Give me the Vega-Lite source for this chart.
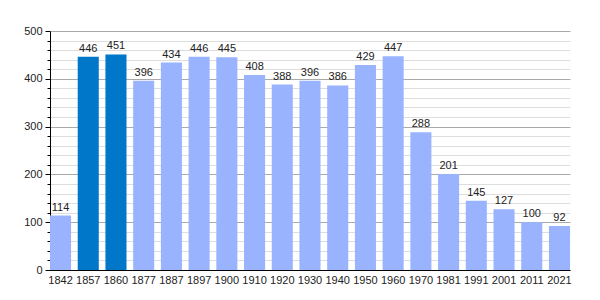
{
  "$schema": "https://vega.github.io/schema/vega-lite/v6.json",
  "autosize": {"type": "none"},
  "width": 520,
  "height": 239,
  "padding": {"left": 50, "top": 31, "right": 29, "bottom": 30},
  "background": "white",
  "config": {
    "view": {"stroke": null},
    "font": "Liberation Sans",
    "axis": {"labelFont": "Liberation Sans", "labelFontSize": 11, "labelColor": "#222"}
  },
  "data": {
    "values": [
      {"year": "1842", "pop": 114, "group": "A"},
      {"year": "1857", "pop": 446, "group": "B"},
      {"year": "1860", "pop": 451, "group": "B"},
      {"year": "1877", "pop": 396, "group": "A"},
      {"year": "1887", "pop": 434, "group": "A"},
      {"year": "1897", "pop": 446, "group": "A"},
      {"year": "1900", "pop": 445, "group": "A"},
      {"year": "1910", "pop": 408, "group": "A"},
      {"year": "1920", "pop": 388, "group": "A"},
      {"year": "1930", "pop": 396, "group": "A"},
      {"year": "1940", "pop": 386, "group": "A"},
      {"year": "1950", "pop": 429, "group": "A"},
      {"year": "1960", "pop": 447, "group": "A"},
      {"year": "1970", "pop": 288, "group": "A"},
      {"year": "1981", "pop": 201, "group": "A"},
      {"year": "1991", "pop": 145, "group": "A"},
      {"year": "2001", "pop": 127, "group": "A"},
      {"year": "2011", "pop": 100, "group": "A"},
      {"year": "2021", "pop": 92, "group": "A"}
    ]
  },
  "encoding": {
    "x": {
      "field": "year", "type": "ordinal", "sort": null,
      "scale": {"paddingInner": 0.24, "paddingOuter": 0},
      "axis": {"title": null, "labelAngle": 0, "ticks": false, "domainColor": "#000", "labelPadding": 4}
    },
    "y": {
      "field": "pop", "type": "quantitative",
      "scale": {"domain": [0, 500], "nice": false},
      "axis": {
        "title": null,
        "values": [0,20,40,60,80,100,120,140,160,180,200,220,240,260,280,300,320,340,360,380,400,420,440,460,480,500],
        "labelExpr": "datum.value % 100 === 0 ? datum.label : ''",
        "grid": true,
        "gridColor": {"condition": {"test": "datum.value % 100 === 0", "value": "#aaaaaa"}, "value": "#dddddd"},
        "gridOpacity": 1,
        "tickSize": {"condition": {"test": "datum.value % 100 === 0", "value": 5}, "value": 3},
        "tickColor": "#000",
        "domainColor": "#000",
        "labelPadding": 3,
        "labelFlush": false,
        "labelBound": false
      }
    }
  },
  "layer": [
    {
      "mark": {"type": "bar"},
      "encoding": {
        "color": {
          "field": "group", "type": "nominal",
          "scale": {"domain": ["A", "B"], "range": ["#99b3ff", "#0077c8"]},
          "legend": null
        }
      }
    },
    {
      "mark": {"type": "text", "baseline": "bottom", "dy": -3, "fontSize": 11, "color": "#222"},
      "encoding": {"text": {"field": "pop", "type": "quantitative"}}
    }
  ]
}
